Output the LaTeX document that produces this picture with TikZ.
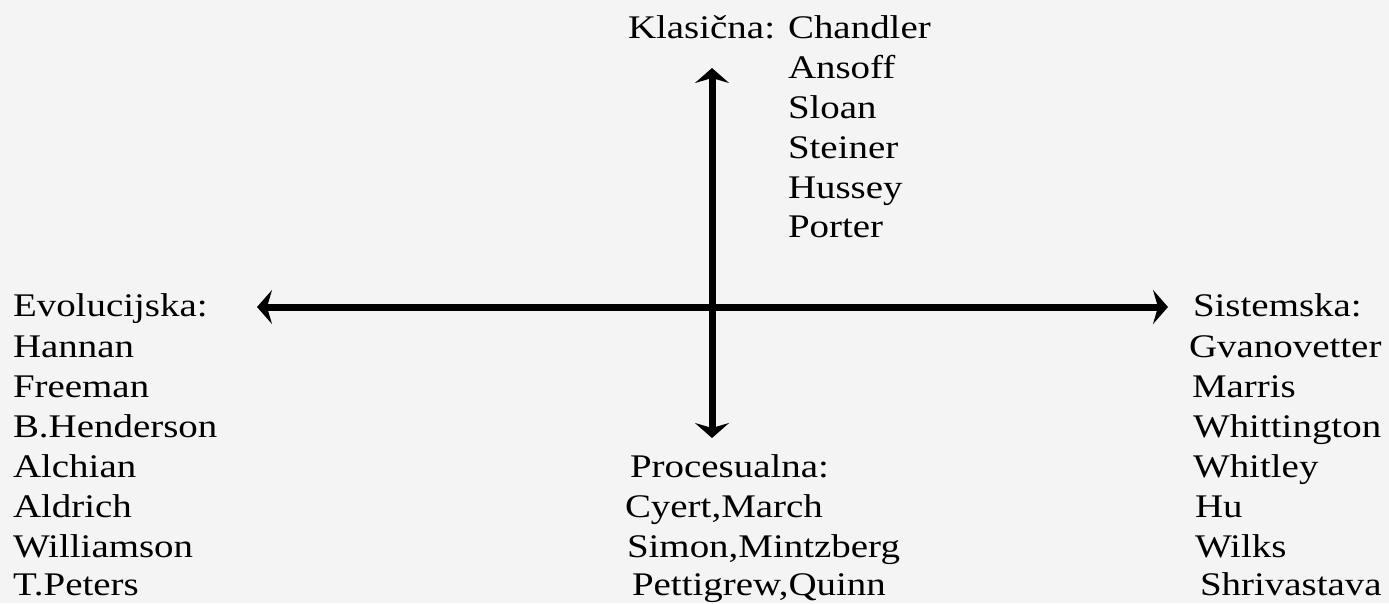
\documentclass[tikz,border=0pt]{standalone}
\usepackage{fontspec}
\setmainfont{Liberation Serif}[FakeStretch=1.18]
\usetikzlibrary{arrows.meta}
\definecolor{bgc}{HTML}{F4F4F4}
\begin{document}
\begin{tikzpicture}[x=1pt,y=-1pt,
  lbl/.style={anchor=base west,inner sep=0pt,outer sep=0pt,font=\fontsize{33}{40}\selectfont},
  axis/.style={line width=7pt,{Stealth[length=15pt,width=34pt,inset=5pt]}-{Stealth[length=15pt,width=34pt,inset=5pt]}}]
\fill[bgc] (0,0) rectangle (1389,603);
\useasboundingbox (0,0) rectangle (1389,603);
% axes
\coordinate (top) at (712,68);
\coordinate (bot) at (712,438);
\coordinate (lft) at (257,307);
\coordinate (rgt) at (1168,307);
\draw[axis] (bot) -- (top);
\draw[axis] (lft) -- (rgt);
% top
\node[lbl] (k0) at (628,38) {Klasična: Chandler};
\node[lbl] (k1) at (788,78) {Ansoff};
\node[lbl] (k2) at (788,118) {Sloan};
\node[lbl] (k3) at (788,158) {Steiner};
\node[lbl] (k4) at (788,198) {Hussey};
\node[lbl] (k5) at (788,237) {Porter};
% left
\node[lbl] (e0) at (13,316) {Evolucijska:};
\node[lbl] (e1) at (13,357) {Hannan};
\node[lbl] (e2) at (13,397) {Freeman};
\node[lbl] (e3) at (13,437) {B.Henderson};
\node[lbl] (e4) at (13,477) {Alchian};
\node[lbl] (e5) at (13,517) {Aldrich};
\node[lbl] (e6) at (13,557) {Williamson};
\node[lbl] (e7) at (13,595) {T.Peters};
% bottom
\node[lbl] (p0) at (630,477) {Procesualna:};
\node[lbl] (p1) at (625,517) {Cyert,March};
\node[lbl] (p2) at (627,557) {Simon,Mintzberg};
\node[lbl] (p3) at (632,595) {Pettigrew,Quinn};
% right
\node[lbl] (s0) at (1193,316) {Sistemska:};
\node[lbl] (s1) at (1189,357) {Gvanovetter};
\node[lbl] (s2) at (1192,397) {Marris};
\node[lbl] (s3) at (1193,437) {Whittington};
\node[lbl] (s4) at (1193,477) {Whitley};
\node[lbl] (s5) at (1195,517) {Hu};
\node[lbl] (s6) at (1195,557) {Wilks};
\node[lbl] (s7) at (1200,595) {Shrivastava};
\end{tikzpicture}
\end{document}
